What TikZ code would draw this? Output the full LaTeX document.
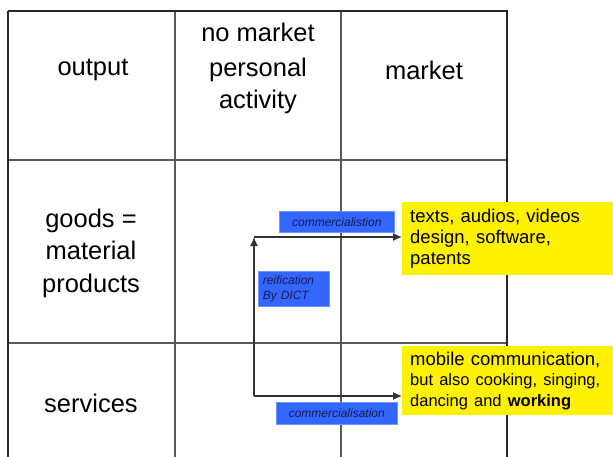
\documentclass[tikz,border=0pt]{standalone}
\usepackage{fontspec}
\setmainfont{Liberation Sans}
\usetikzlibrary{arrows.meta,calc}
\definecolor{bluebox}{HTML}{3366FF}
\definecolor{bluetext}{HTML}{1A1A50}
\begin{document}
\begin{tikzpicture}[x=1pt,y=-1pt,
  outer/.style={line width=2.4pt,draw=black!85},
  inner/.style={line width=1.6pt,draw=black!65},
  head/.style={font=\fontsize{25.5}{32.5}\selectfont,align=center,inner sep=0pt},
  ybox/.style={fill=yellow,anchor=north west,text width=205pt,
     inner xsep=8pt,inner ysep=5pt,align=left,font=\fontsize{18.5}{21}\selectfont,minimum height=73pt},
  bbox/.style={fill=bluebox,draw=bluebox!70!white,line width=0.6pt,anchor=north west,
     text=bluetext,font=\fontsize{12}{15}\selectfont\itshape,inner sep=0pt,align=left},
  arr/.style={line width=1.3pt,draw=black!80,-{Latex[length=9pt,width=8pt]}}]
\useasboundingbox (0,0) rectangle (613,456);
\fill[white] (0,0) rectangle (613,456);
\begin{scope}
\clip (0,0) rectangle (613,456);
% grid
\draw[inner] (175,11) -- (175,470);
\draw[inner] (341,11) -- (341,470);
\draw[inner] (8,160) -- (507,160);
\draw[inner] (8,343) -- (507,343);
\draw[outer] (8,11) -- (507,11) -- (507,470);
\draw[outer] (8,11) -- (8,470);
\end{scope}
% headers
\node[head] (hout) at (93,70) {output};
\node[head] (hno) at (258,32) {no market};
\node[head] (hpa) at (258,86) {personal\\activity};
\node[head] (hmk) at (424,70) {market};
\node[head] (hgoods) at (91,253) {goods =\\material\\products};
\node[head] (hserv) at (91,403) {services};
% yellow boxes
\node[ybox] (y1) at (402,202) {texts, audios, videos\\design, software,\\patents};
\node[ybox,minimum height=69pt] (y2) at (402,346) {mobile communication,\\[-1pt]{\fontsize{16.5}{21}\selectfont but also cooking, singing,}\\{\fontsize{16.5}{21}\selectfont dancing and \textbf{working}}};
% blue boxes
\node[bbox,minimum width=115pt,minimum height=21pt,align=center] (b1) at (279,211) {commercialistion};
\node[bbox,minimum width=71pt,minimum height=35pt,text width=62pt,inner xsep=4.5pt] (b2) at (258,271) {reification\\By DICT};
\node[bbox,minimum width=121pt,minimum height=22pt,align=center] (b3) at (276,402) {commercialisation};
% connectors
\coordinate (c1) at (254,237);
\coordinate (c2) at (254,396);
\draw[arr] (c2) -- (c1);
\draw[arr] (c1) -- (c1 -| y1.west);
\draw[arr] (c2) -- (c2 -| y2.west);
\end{tikzpicture}
\end{document}
